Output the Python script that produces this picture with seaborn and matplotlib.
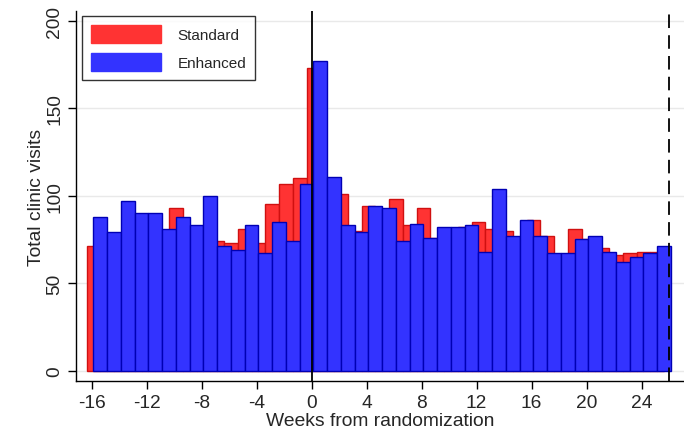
import numpy as np
import pandas as pd
import matplotlib
matplotlib.use("Agg")
import matplotlib.pyplot as plt
import seaborn as sns
from matplotlib.patches import Patch

# ---- data ----
weeks = list(range(-16, 26))
standard = [71, 77, 78, 88, 88, 80, 93, 82, 82, 74,
            73, 81, 73, 95, 107, 110, 173, 105, 101, 80,
            94, 92, 98, 83, 93, 76, 81, 82, 85, 81,
            80, 76, 86, 77, 66, 81, 75, 70, 66, 67,
            68, 68]
enhanced = [88, 79, 97, 90, 90, 81, 88, 83, 100, 71,
            69, 83, 67, 85, 74, 107, 177, 111, 83, 79,
            94, 93, 74, 84, 76, 82, 82, 83, 68, 104,
            77, 86, 77, 67, 67, 75, 77, 68, 62, 65,
            67, 71]
series_names = ["Standard", "Enhanced"]
xtick_values = [-16, -12, -8, -4, 0, 4, 8, 12, 16, 20, 24]
xtick_labels = ["-16", "-12", "-8", "-4", "0", "4", "8", "12", "16", "20", "24"]
ytick_values = [0, 50, 100, 150, 200]
ytick_labels = ["0", "50", "100", "150", "200"]
end_week = 26

sns.set_theme(style="white")
plt.rcParams["font.family"] = ["Liberation Sans", "DejaVu Sans"]
plt.rcParams["axes.unicode_minus"] = False

W, H = 684, 431
fig = plt.figure(figsize=(W / 100, H / 100), dpi=100)
ax = fig.add_axes([76 / W, 1 - 382 / H, 608 / W, 370 / H])

red_face, red_edge = "#ff3333", "#d01010"
blue_face, blue_edge = "#3333ff", "#0000b4"

# offsets of bars relative to integer week (layout only)
red_off, blue_off = 0.14, 0.62
wk = np.array(weeks, dtype=float)
df = pd.DataFrame({"xr": wk + red_off, "xb": wk + blue_off,
                   "Standard": np.array(standard, dtype=float),
                   "Enhanced": np.array(enhanced, dtype=float)})
red_bins = (np.append(wk, wk[-1] + 1) - 0.5 + red_off).tolist()
blue_bins = (np.append(wk, wk[-1] + 1) - 0.5 + blue_off).tolist()

for y in ytick_values:
    ax.axhline(y, color="#e9e9e9", lw=1.0, zorder=0)

sns.histplot(data=df, x="xr", weights="Standard", bins=red_bins,
             color=red_face, edgecolor=red_edge, linewidth=1.0, alpha=1.0,
             ax=ax, zorder=2)
sns.histplot(data=df, x="xb", weights="Enhanced", bins=blue_bins,
             color=blue_face, edgecolor=blue_edge, linewidth=1.0, alpha=1.0,
             ax=ax, zorder=3)

ax.axvline(0, color="black", lw=1.3, zorder=4)
ax.axvline(end_week, color="black", lw=1.3, ls=(0, (7.5, 4)), zorder=4)

ax.set_xlim(-17.14, 27.08)
ax.set_ylim(-6.0, 205.7)
ax.set_xticks(xtick_values)
ax.set_xticklabels(xtick_labels, fontsize=13.8)
ax.set_yticks(ytick_values)
ax.set_yticklabels(ytick_labels, fontsize=13.8, rotation=90, va="center")
ax.tick_params(axis="both", direction="out", length=6, width=1, color="black",
               bottom=True, left=True, pad=3)
ax.set_xlabel("Weeks from randomization", fontsize=13.9, labelpad=1)
ax.set_ylabel("Total clinic visits", fontsize=13.9, labelpad=1)

for s in ["top", "right"]:
    ax.spines[s].set_visible(False)
for s in ["left", "bottom"]:
    ax.spines[s].set_color("black")
    ax.spines[s].set_linewidth(1.0)
ax.grid(False)

handles = [Patch(facecolor=red_face, edgecolor=red_face, label=series_names[0]),
           Patch(facecolor=blue_face, edgecolor=blue_face, label=series_names[1])]
leg = ax.legend(handles=handles, loc="upper left",
                bbox_to_anchor=(6 / 608, (382 - 17) / 370), borderaxespad=0,
                fontsize=11, handlelength=4.6, handleheight=1.45,
                handletextpad=1.05, labelspacing=0.62, borderpad=0.6,
                frameon=True, fancybox=False)
leg.get_frame().set_edgecolor("black")
leg.get_frame().set_linewidth(1.0)
leg.set_zorder(5)

fig.savefig("out.png", dpi=100)
